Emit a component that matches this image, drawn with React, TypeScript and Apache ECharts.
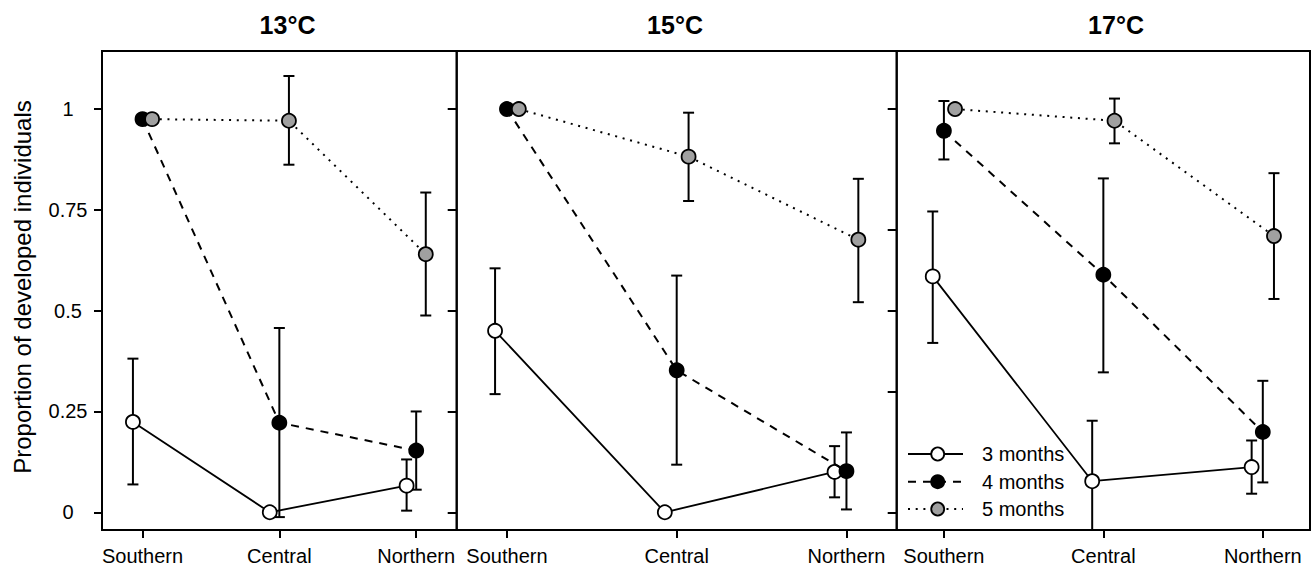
import React, { useEffect, useRef } from "react";
import * as echarts from "echarts";

const sites = ["Southern", "Central", "Northern"];
const temperatures = ["13°C", "15°C", "17°C"];
const seriesNames = ["3 months", "4 months", "5 months"];

// rows = temperature (13, 15, 17 °C); columns = site (Southern, Central, Northern)
const mean3 = [[0.224, 0, 0.066], [0.45, 0, 0.1], [0.585, 0.077, 0.112]];
const lo3 = [[0.069, null, 0.004], [0.293, null, 0.037], [0.42, -0.08, 0.046]];
const hi3 = [[0.381, null, 0.131], [0.605, null, 0.164], [0.746, 0.227, 0.178]];

const mean4 = [[0.975, 0.222, 0.153], [1.0, 0.352, 0.102], [0.946, 0.589, 0.199]];
const lo4 = [[null, -0.012, 0.056], [null, 0.118, 0.007], [0.875, 0.347, 0.074]];
const hi4 = [[null, 0.457, 0.25], [null, 0.587, 0.198], [1.02, 0.828, 0.326]];

const mean5 = [[0.975, 0.971, 0.64], [1.0, 0.882, 0.676], [1.0, 0.971, 0.685]];
const lo5 = [[null, 0.862, 0.488], [null, 0.772, 0.521], [null, 0.915, 0.529]];
const hi5 = [[null, 1.082, 0.793], [null, 0.991, 0.827], [null, 1.026, 0.841]];

const yTicksLeft = [0, 0.25, 0.5, 0.75, 1];
const yTicksRight = [[0, 0.25, 0.5, 0.75, 1], [0, 0.3, 0.5, 0.7, 1], []];
const siteValues = [1, 2, 3];

const FONT = "'Liberation Sans', Arial, Helvetica, sans-serif";

export default function App() {
  const ref = useRef<HTMLDivElement>(null);

  useEffect(() => {
    if (!ref.current) return;
    const chart = echarts.init(ref.current, null, { renderer: "svg" });

    const means = [mean3, mean4, mean5];
    const los = [lo3, lo4, lo5];
    const his = [hi3, hi4, hi5];
    const dodge = [-0.07, 0, 0.07];

    const panels = [
      { left: 102, width: 354.7, titleX: 287.5 },
      { left: 456.7, width: 440, titleX: 675 },
      { left: 896.7, width: 413.3, titleX: 1116 },
    ];
    const top = 51;
    const height = 479;

    const dashes: any[] = [null, [8, 7], [2, 5.7]];
    const lineStyles: any[] = [
      { type: "solid", color: "#000", width: 1.8 },
      { type: dashes[1], color: "#000", width: 2 },
      { type: dashes[2], color: "#000", width: 2 },
    ];
    const fills = ["#ffffff", "#000000", "#a0a0a0"];

    const grid: any[] = [];
    const xAxis: any[] = [];
    const yAxis: any[] = [];
    const series: any[] = [];

    panels.forEach((p, pi) => {
      grid.push({
        left: p.left,
        top,
        width: p.width,
        height,
        show: true,
        borderColor: "#000",
        borderWidth: 2,
        backgroundColor: "transparent",
      });
      xAxis.push({
        type: "value",
        gridIndex: pi,
        min: 0.704,
        max: 3.296,
        position: "bottom",
        splitLine: { show: false },
        axisLine: { show: false, onZero: false },
        axisTick: {
          show: true,
          customValues: siteValues,
          length: 8,
          lineStyle: { color: "#000", width: 2 },
        },
        axisLabel: {
          show: true,
          customValues: siteValues,
          formatter: (v: number) => sites[Math.round(v) - 1] ?? "",
          color: "#000",
          fontSize: 20,
          fontFamily: FONT,
          margin: 16,
        },
      });
      yAxis.push({
        type: "value",
        gridIndex: pi,
        min: -0.044,
        max: 1.144,
        position: "left",
        splitLine: { show: false },
        axisLine: { show: false, onZero: false },
        axisTick: {
          show: pi === 0,
          customValues: yTicksLeft,
          length: 8,
          lineStyle: { color: "#000", width: 2 },
        },
        axisLabel: {
          show: pi === 0,
          customValues: yTicksLeft,
          formatter: (v: number) => String(v),
          color: "#000",
          fontSize: 20,
          fontFamily: FONT,
          align: "center",
          margin: 34,
        },
      });
      yAxis.push({
        type: "value",
        gridIndex: pi,
        min: -0.044,
        max: 1.144,
        position: "right",
        splitLine: { show: false },
        axisLine: { show: false, onZero: false },
        axisTick: {
          show: yTicksRight[pi].length > 0,
          inside: true,
          customValues: yTicksRight[pi],
          length: 9,
          lineStyle: { color: "#000", width: 2 },
        },
        axisLabel: { show: false },
      });

      // error bars
      const ebData: any[] = [];
      for (let m = 0; m < 3; m++) {
        for (let s = 0; s < 3; s++) {
          const lo = los[m][pi][s];
          const hi = his[m][pi][s];
          if (lo === null || hi === null) continue;
          ebData.push([siteValues[s] + dodge[m], lo, hi]);
        }
      }
      series.push({
        type: "custom",
        xAxisIndex: pi,
        yAxisIndex: pi * 2,
        silent: true,
        clip: true,
        z: 2,
        encode: { x: 0, y: [1, 2] },
        data: ebData,
        renderItem: (params: any, api: any) => {
          const x = api.value(0);
          const t = api.coord([x, api.value(2)]);
          const b = api.coord([x, api.value(1)]);
          const w = 5.5;
          const st = { stroke: "#000", lineWidth: 2 };
          return {
            type: "group",
            children: [
              { type: "line", shape: { x1: t[0], y1: t[1], x2: b[0], y2: b[1] }, style: st },
              { type: "line", shape: { x1: t[0] - w, y1: t[1], x2: t[0] + w, y2: t[1] }, style: st },
              { type: "line", shape: { x1: b[0] - w, y1: b[1], x2: b[0] + w, y2: b[1] }, style: st },
            ],
          };
        },
      });

      for (let m = 0; m < 3; m++) {
        series.push({
          type: "line",
          name: seriesNames[m],
          xAxisIndex: pi,
          yAxisIndex: pi * 2,
          silent: true,
          z: 3 + m,
          symbol: "circle",
          symbolSize: 14,
          showSymbol: true,
          lineStyle: lineStyles[m],
          itemStyle: { color: fills[m], borderColor: "#000", borderWidth: 1.8 },
          data: means[m][pi].map((v, s) => [siteValues[s] + dodge[m], v]),
        });
      }
    });

    const graphic: any[] = [];
    panels.forEach((p, pi) => {
      graphic.push({
        type: "text",
        x: p.titleX,
        y: 25,
        style: {
          text: temperatures[pi],
          fontSize: 25,
          fontWeight: "bold",
          fontFamily: FONT,
          fill: "#000",
          align: "center",
          verticalAlign: "middle",
          textAlign: "center",
          textVerticalAlign: "middle",
        },
      });
    });
    graphic.push({
      type: "text",
      x: 22,
      y: 287,
      rotation: Math.PI / 2,
      style: {
        text: "Proportion of developed individuals",
        fontSize: 24,
        fontFamily: FONT,
        fill: "#000",
        align: "center",
        verticalAlign: "middle",
        textAlign: "center",
        textVerticalAlign: "middle",
      },
    });

    // legend
    const legendY = [454, 481.7, 509];
    for (let m = 0; m < 3; m++) {
      graphic.push({
        type: "line",
        shape: { x1: 908, y1: legendY[m], x2: 963, y2: legendY[m] },
        style: { stroke: "#000", lineWidth: lineStyles[m].width, lineDash: dashes[m] },
        z: 10,
      });
      graphic.push({
        type: "circle",
        shape: { cx: 937.7, cy: legendY[m], r: 6.5 },
        style: { fill: fills[m], stroke: "#000", lineWidth: 1.8 },
        z: 11,
      });
      graphic.push({
        type: "text",
        x: 982,
        y: legendY[m],
        z: 11,
        style: {
          text: seriesNames[m],
          fontSize: 20,
          fontFamily: FONT,
          fill: "#000",
          align: "left",
          verticalAlign: "middle",
          textAlign: "left",
          textVerticalAlign: "middle",
        },
      });
    }

    chart.setOption({
      animation: false,
      backgroundColor: "#ffffff",
      grid,
      xAxis,
      yAxis,
      series,
      graphic,
    });

    return () => chart.dispose();
  }, []);

  return (
    <div
      ref={ref}
      style={{ position: "absolute", left: 0, top: 0, width: 1313, height: 567 }}
    />
  );
}
